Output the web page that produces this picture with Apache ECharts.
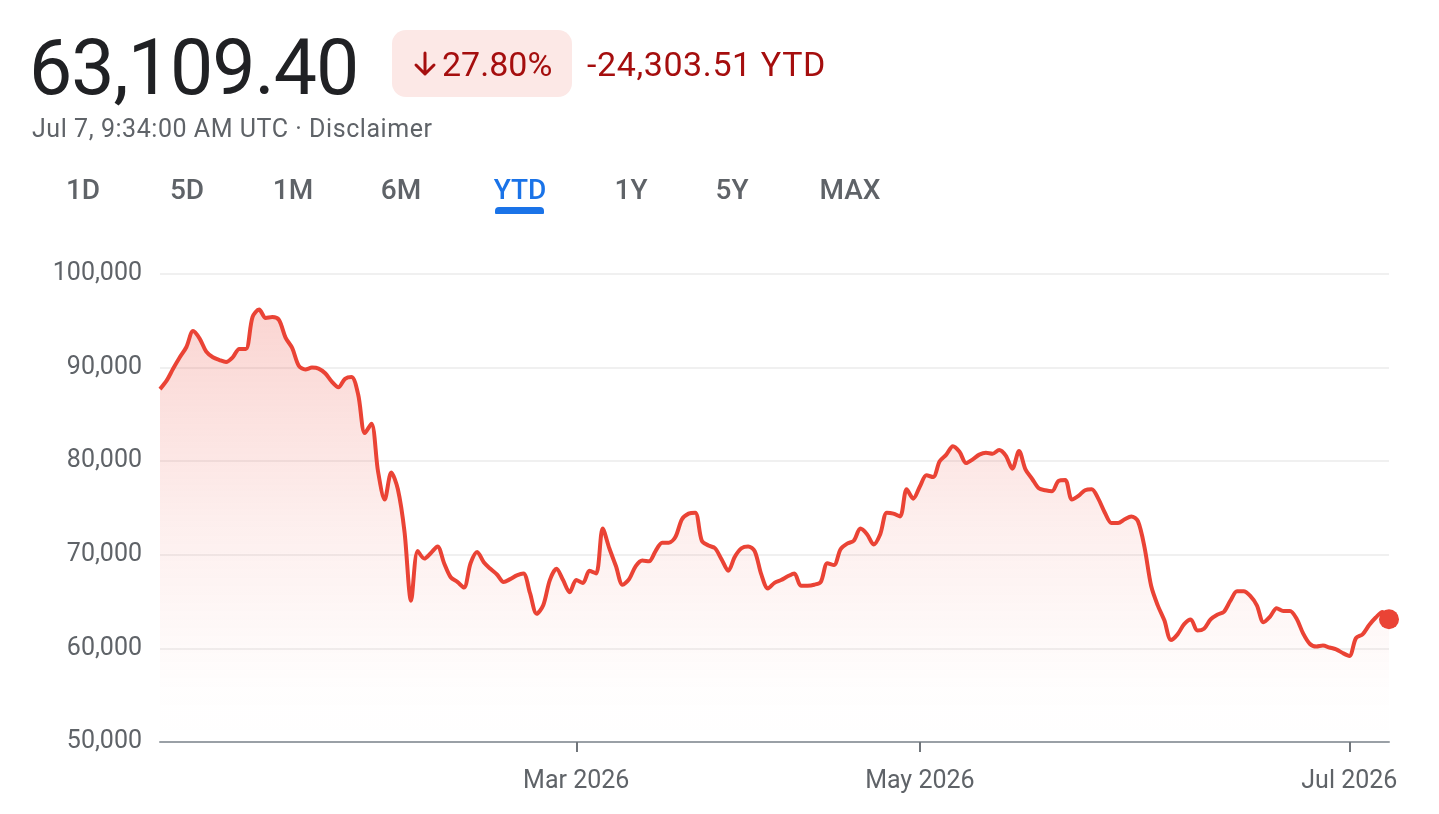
<!DOCTYPE html>
<html>
<head>
<meta charset="utf-8">
<script src="https://cdn.jsdelivr.net/npm/echarts@6/dist/echarts.min.js"></script>
<style>
  html, body { margin: 0; padding: 0; background: #fff; }
  body { width: 1439px; height: 814px; position: relative; overflow: hidden; font-family: Roboto, "Noto Sans", sans-serif; }
  #chart { position: absolute; left: 0; top: 0; width: 1439px; height: 814px; }
  .t { position: absolute; white-space: nowrap; z-index: 2; }
  #price { left: 29px; top: 30px; font-size: 77px; line-height: 77px; color: #202124; letter-spacing: -1px; }
  #badge { position: absolute; left: 392px; top: 30px; width: 180px; height: 67px; border-radius: 14px; background: #fce8e6; z-index: 1; }
  #arrow { position: absolute; left: 413px; top: 51px; z-index: 2; }
  #pct { left: 442px; top: 47px; font-size: 34px; line-height: 34px; color: #a50e0e; }
  #chg { left: 587px; top: 47px; font-size: 34px; line-height: 34px; color: #a50e0e; letter-spacing: 0.6px; }
  #sub { left: 32px; top: 116px; font-size: 25px; line-height: 25px; color: #5f6368; letter-spacing: 0.55px; }
  .tab { position: absolute; width: 100px; text-align: center; top: 176px; font-size: 28px; line-height: 28px; font-weight: 500; color: #5f6368; z-index: 2; }
  .tab.active { color: #1a73e8; }
  #ul { position: absolute; left: 495px; top: 207px; width: 49px; height: 7px; background: #1a73e8; border-radius: 4px 4px 1px 1px; z-index: 2; }
</style>
</head>
<body>
<div id="chart"></div>
<div id="price" class="t">63,109.40</div>
<div id="badge"></div>
<svg id="arrow" width="24" height="26" viewBox="0 0 24 26">
  <path d="M12 2 V23 M3 14 L12 23 L21 14" fill="none" stroke="#a50e0e" stroke-width="3" stroke-linecap="round" stroke-linejoin="round"/>
</svg>
<div id="pct" class="t">27.80%</div>
<div id="chg" class="t">-24,303.51 YTD</div>
<div id="sub" class="t">Jul 7, 9:34:00 AM UTC · Disclaimer</div>
<div class="tab" style="left:33px">1D</div>
<div class="tab" style="left:137px">5D</div>
<div class="tab" style="left:243px">1M</div>
<div class="tab" style="left:351px">6M</div>
<div class="tab active" style="left:470px">YTD</div>
<div class="tab" style="left:581px">1Y</div>
<div class="tab" style="left:682px">5Y</div>
<div class="tab" style="left:800px">MAX</div>
<div id="ul"></div>
<script>
// Price series (YTD), one value per sample point
const values = [
  87700, 88600, 89900, 91100, 92200, 93900, 93100, 91700, 91100, 90800,
  90600, 91100, 92000, 92000, 95400, 96200, 95300, 95400, 95100, 93200,
  92100, 90200, 89800, 90000, 89900, 89400, 88500, 87900, 88800, 89000,
  87100, 83000, 84000, 78900, 75900, 78800, 77000, 72500, 65100, 70400,
  69600, 70200, 70900, 69100, 67600, 67100, 66500, 69100, 70300, 69200,
  68500, 67900, 67100, 67400, 67800, 68000, 65900, 63700, 64600, 67300,
  68500, 67300, 66000, 67300, 67000, 68300, 68000, 72800, 70700, 68800,
  66800, 67400, 68800, 69400, 69300, 70400, 71300, 71300, 71900, 73800,
  74400, 74500, 71500, 71000, 70700, 69500, 68300, 69800, 70700, 70900,
  70400, 67900, 66400, 67000, 67300, 67700, 68000, 66700, 66700, 66800,
  67100, 69100, 68900, 70600, 71200, 71500, 72800, 72200, 71100, 72200,
  74500, 74400, 74100, 77000, 76000, 77300, 78500, 78300, 80000, 80700,
  81600, 81000, 79800, 80200, 80700, 80900, 80800, 81200, 80600, 79200,
  81100, 79100, 78100, 77100, 76900, 76800, 77900, 78000, 75900, 76300,
  76900, 77000, 76000, 74500, 73400, 73400, 73800, 74100, 73600, 70800,
  66700, 64600, 63000, 60900, 61500, 62600, 63100, 61900, 62100, 63100,
  63600, 63900, 65100, 66100, 66100, 65600, 64600, 62800, 63400, 64300,
  64000, 64000, 63200, 61600, 60500, 60200, 60300, 60100, 59900, 59500,
  59200, 61100, 61500, 62500, 63300, 63900, 63109.40
];
const categories = values.map((_, i) => String(i));
const tickLabels = ['Mar 2026', 'May 2026', 'Jul 2026'];
const tickPositions = [63, 115, 180];
const yTicks = [50000, 60000, 70000, 80000, 90000, 100000];

const lastIndex = values.length - 1;
const chart = echarts.init(document.getElementById('chart'), null, { renderer: 'canvas' });
const isTick = (idx) => tickPositions.indexOf(idx) >= 0;

chart.setOption({
  animation: false,
  grid: { left: 160, right: 50, top: 274, bottom: 72, containLabel: false },
  xAxis: {
    type: 'category',
    data: categories,
    boundaryGap: false,
    axisLine: { show: true, lineStyle: { color: '#9aa0a6', width: 2 } },
    axisTick: { show: true, interval: (idx) => isTick(idx), length: 10, lineStyle: { color: '#70757a', width: 2 } },
    axisLabel: {
      show: true,
      interval: (idx) => isTick(idx),
      formatter: (v, idx) => { const k = tickPositions.indexOf(Number(v)); return k >= 0 ? tickLabels[k] : ''; },
      color: '#5f6368', fontSize: 25, fontFamily: 'Roboto', margin: 27
    },
    splitLine: { show: false }
  },
  yAxis: {
    type: 'value',
    min: yTicks[0],
    max: yTicks[yTicks.length - 1],
    interval: 10000,
    axisLine: { show: false },
    axisTick: { show: false },
    axisLabel: {
      color: '#5f6368', fontSize: 25, fontFamily: 'Roboto', margin: 18,
      formatter: (v) => v.toLocaleString('en-US')
    },
    splitLine: { show: true, lineStyle: { color: '#f0f0f0', width: 2 } }
  },
  series: [
    {
      type: 'line',
      data: values,
      showSymbol: false,
      smooth: 0.3,
      lineStyle: { color: '#ea4335', width: 4 },
      itemStyle: { color: '#ea4335' },
      areaStyle: {
        color: new echarts.graphic.LinearGradient(0, 0, 0, 1, [
          { offset: 0, color: 'rgba(234,67,53,0.32)' },
          { offset: 0.5, color: 'rgba(234,67,53,0.12)' },
          { offset: 0.88, color: 'rgba(234,67,53,0.01)' },
          { offset: 1, color: 'rgba(234,67,53,0)' }
        ])
      },
      z: 3
    },
    {
      type: 'scatter',
      data: [[lastIndex, values[lastIndex]]],
      symbol: 'circle',
      symbolSize: 20,
      itemStyle: { color: '#ea4335', opacity: 1 },
      clip: false,
      z: 5
    }
  ]
});
</script>
</body>
</html>
